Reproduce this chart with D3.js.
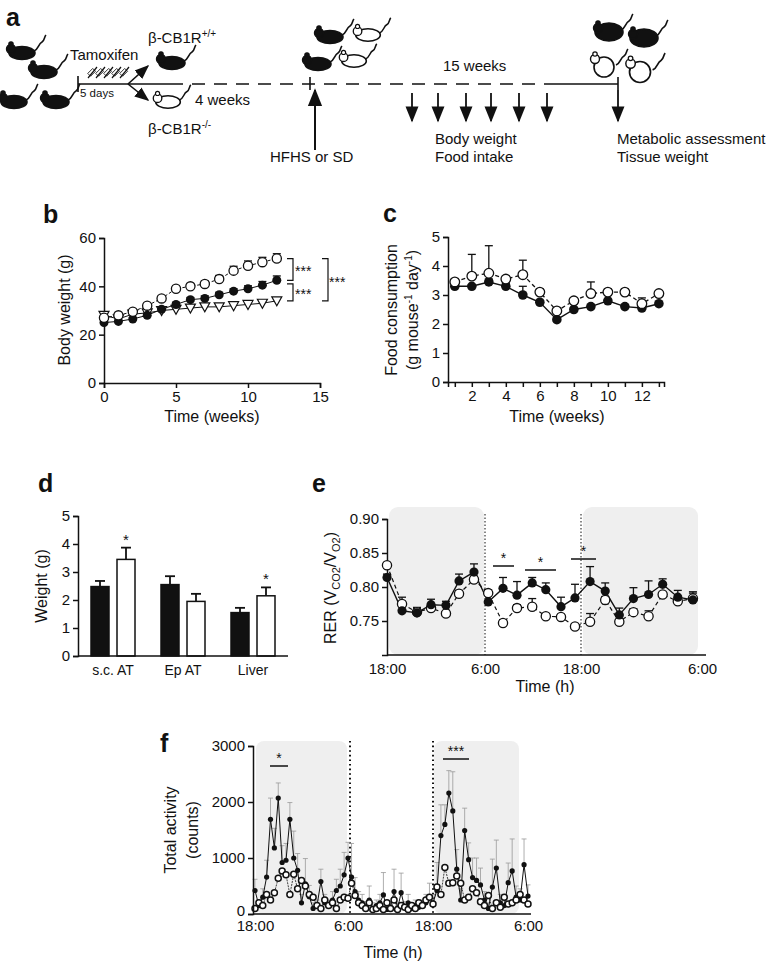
<!DOCTYPE html>
<html><head><meta charset="utf-8">
<script src="https://cdn.jsdelivr.net/npm/d3@7"></script>
<style>body{margin:0;background:#fff}svg{font-family:"Liberation Sans",Arial,sans-serif}</style>
</head><body>
<svg id="c" width="782" height="966"></svg>
<script>
// ---------- DATA ----------
const bWeeks=[0,1,2,3,4,5,6,7,8,9,10,11,12];
const bOpen=[27,28,29.5,32,35,39,40,41,43,46.5,48.5,50,51.5];
const bOpenErr=[0.5,0.5,0.5,0.8,1,1,1,1.2,1.5,1.8,2,2,2];
const bFilled=[25,25.5,26.5,28,30.5,32.5,34.5,35,36.5,38,39,40.5,42.5];
const bFilledErr=[1,0.5,0.5,0.8,0.8,0.8,0.8,1,1,1,1.2,1.5,1.8];
const bTri=[28,26.5,28.5,29,30,30.5,31,31.5,31.5,32,32.5,33,34];
const bTicksX=[0,5,10,15], bTicksY=[0,20,40,60];

const cWeeks=[1,2,3,4,5,6,7,8,9,10,11,12,13];
const cFilled=[3.3,3.3,3.45,3.3,3.0,2.75,2.15,2.5,2.6,2.8,2.6,2.55,2.7];
const cFilledErr=[0.05,0.05,0.1,0.1,0.3,0.05,0.05,0.05,0.05,0.05,0.05,0.1,0.05];
const cOpen=[3.45,3.65,3.75,3.55,3.7,3.1,2.45,2.8,3.05,3.1,3.1,2.7,3.05];
const cOpenErr=[0.1,0.75,0.95,0.1,0.5,0.1,0.1,0.1,0.4,0.1,0.1,0.2,0.1];
const cTicksX=[2,4,6,8,10,12], cTicksY=[0,1,2,3,4,5];

const dCats=["s.c. AT","Ep AT","Liver"];
const dFilled=[2.48,2.55,1.55], dFilledErr=[0.2,0.3,0.17];
const dOpen=[3.45,1.95,2.15], dOpenErr=[0.42,0.27,0.3];
const dSig=["*","","*"];

const eHours=[0,1.84,3.67,5.39,7.22,8.82,10.65,12.4,14.25,16,17.9,19.6,21.5,23.25,24.9,26.4,27.8,29.2,30.7,32.1,33.6,35.1];
const eFilled=[0.814,0.765,0.762,0.774,0.773,0.809,0.822,0.778,0.798,0.788,0.806,0.796,0.771,0.784,0.808,0.794,0.759,0.783,0.789,0.804,0.785,0.781];
const eFilledErr=[0.005,0.01,0.008,0.008,0.006,0.01,0.012,0.012,0.016,0.02,0.008,0.01,0.014,0.02,0.022,0.012,0.01,0.016,0.02,0.008,0.01,0.01];
const eOpen=[0.832,0.775,0.763,0.769,0.761,0.790,0.811,0.791,0.747,0.769,0.771,0.757,0.756,0.742,0.749,0.781,0.749,0.763,0.757,0.789,0.779,0.783];
const eOpenErr=[0.003,0.01,0.005,0.005,0.003,0.005,0.005,0.005,0.005,0.005,0.012,0.003,0.003,0.003,0.012,0.005,0.01,0.005,0.008,0.003,0.003,0.01];
const eTicksY=[0.75,0.80,0.85,0.90];
const timeTickH=[0,12,24,36], timeTickLab=["18:00","6:00","18:00","6:00"];

const fFilled=[420,150,300,660,1690,1180,2070,920,960,1690,1000,780,200,540,310,100,150,580,200,150,250,420,500,700,1000,660,400,250,200,120,250,100,150,200,340,80,120,400,100,380,120,200,100,150,120,150,200,300,200,420,1400,1600,2160,1840,800,250,1490,970,650,600,520,250,100,480,820,200,150,560,770,300,250,880,320];
const fFilledErr=[200,100,150,300,380,350,270,300,300,300,480,300,150,450,200,100,100,220,150,100,150,200,300,400,280,600,250,150,150,100,250,100,100,150,400,80,100,400,100,350,100,150,100,100,100,100,150,250,150,500,550,350,400,700,350,200,400,300,350,400,300,150,100,500,500,150,150,350,570,200,200,460,200];
const fOpen=[100,200,150,350,250,380,640,770,700,350,710,450,600,500,350,300,150,100,250,150,200,100,250,300,280,550,330,200,150,100,200,80,100,150,80,200,100,250,80,150,120,80,150,100,200,150,250,300,180,480,350,830,550,560,680,550,250,300,450,380,220,150,330,100,200,120,300,180,200,250,350,250,180];
const fTicksY=[0,1000,2000,3000];

// ---------- DRAW ----------
const svg=d3.select("#c");
const BLK="#111";
function txt(g,x,y,s,size,opt={}){return g.append("text").attr("x",x).attr("y",y).attr("font-size",size).attr("fill",BLK)
 .attr("text-anchor",opt.anchor||"start").attr("font-weight",opt.bold?"bold":null).text(s);}
function letter(x,y,s){txt(svg,x,y,s,25,{bold:true});}
function errBars(g,xs,ys,es,x,y,w=4,col=BLK,sw=1.3){
  xs.forEach((xv,i)=>{const X=x(xv),Y0=y(ys[i]),Y1=y(ys[i]+es[i]);
    g.append("line").attr("x1",X).attr("x2",X).attr("y1",Y0).attr("y2",Y1).attr("stroke",col).attr("stroke-width",sw);
    g.append("line").attr("x1",X-w).attr("x2",X+w).attr("y1",Y1).attr("y2",Y1).attr("stroke",col).attr("stroke-width",sw);});
}
function styleAxis(a,fs){a.select(".domain").attr("stroke",BLK).attr("stroke-width",1.5);a.selectAll(".tick line").attr("stroke",BLK).attr("stroke-width",1.5);
 a.selectAll("text").attr("font-size",fs).attr("fill",BLK).attr("font-family","Liberation Sans,Arial,sans-serif");}

// ===== panel a =====
letter(6,26,"a");
function mouse(x,y,filled,s=1,fat=false){
  const g=svg.append("g").attr("transform",`translate(${x},${y}) scale(${s})`);
  const fill=filled?BLK:"#fff";
  g.append("path").attr("d","M12,-2 C17,-4 16,-9 20,-11 C23,-13 22,-16 24,-18").attr("fill","none").attr("stroke",BLK).attr("stroke-width",1.6);
  if(fat){g.append("ellipse").attr("rx",filled?14:10).attr("ry",filled?9:10).attr("fill",fill).attr("stroke",BLK).attr("stroke-width",1.6);}
  else g.append("ellipse").attr("rx",13).attr("ry",6.5).attr("fill",fill).attr("stroke",BLK).attr("stroke-width",1.6);
  const hx=fat&&!filled?-9:-11, hy=fat&&!filled?-8:-4;
  g.append("circle").attr("cx",hx).attr("cy",hy).attr("r",4.5).attr("fill",fill).attr("stroke",BLK).attr("stroke-width",1.4);
  g.append("circle").attr("cx",hx).attr("cy",hy-5).attr("r",2.2).attr("fill",fill).attr("stroke",BLK).attr("stroke-width",1.2);
}
[[22,53],[44,72],[14,102],[56,102],[172,63],[318,64],[330,37]].forEach(p=>mouse(p[0],p[1],true));
[[168,102],[354,61],[368,35]].forEach(p=>mouse(p[0],p[1],false,0.95));
mouse(609,32,true,1,true);mouse(644,38,true,1,true);
mouse(604,67,false,1,true);mouse(640,72,false,1.05,true);
svg.append("defs").append("marker").attr("id","ah").attr("viewBox","0 0 10 10").attr("refX",9).attr("refY",5)
 .attr("markerWidth",9).attr("markerHeight",9).attr("orient","auto").append("path").attr("d","M0,1 L10,5 L0,9 Z").attr("fill",BLK);
const L=(x1,y1,x2,y2,o={})=>svg.append("line").attr("x1",x1).attr("y1",y1).attr("x2",x2).attr("y2",y2).attr("stroke",BLK)
 .attr("stroke-width",o.w||1.6).attr("stroke-dasharray",o.dash||null).attr("marker-end",o.arrow?"url(#ah)":null);
L(78,76,78,92);L(78,84,170,84);L(170,84,553,84,{dash:"13,9"});L(553,84,618,84);L(618,77,618,90);L(310,77,310,90);
L(128,84,148,66,{arrow:true});L(128,84,148,100,{arrow:true});
for(let i=0;i<5;i++){const x=88+i*8;L(x,78,x+9,67,{w:1.2});svg.append("rect").attr("x",x+2).attr("y",69).attr("width",4).attr("height",7).attr("fill","none").attr("stroke",BLK).attr("stroke-width",0.8).attr("transform",`rotate(45,${x+4},${72})`);}
txt(svg,70,60,"Tamoxifen",15);txt(svg,80,97,"5 days",11.5);
const t1=txt(svg,148,43,"β-CB1R",15);t1.append("tspan").attr("dy",-6).attr("font-size",10).text("+/+");
const t2=txt(svg,148,134,"β-CB1R",15);t2.append("tspan").attr("dy",-6).attr("font-size",10).text("-/-");
txt(svg,195,105,"4 weeks",15);txt(svg,270,162,"HFHS or SD",15);
L(315,150,315,90,{arrow:true,w:2});
txt(svg,443,71,"15 weeks",15);
[412,438,466,491,519,547].forEach(x=>L(x,93,x,121,{arrow:true,w:1.8}));
L(618,90,618,121,{arrow:true,w:1.8});
txt(svg,435,144,"Body weight",15);txt(svg,435,162,"Food intake",15);
txt(svg,617,144,"Metabolic assessment",15);txt(svg,617,162,"Tissue weight",15);

// ===== panel b =====
letter(43,223,"b");
{const x=d3.scaleLinear().domain([0,15]).range([104,320]),y=d3.scaleLinear().domain([0,60]).range([383,238]);
 const g=svg.append("g");
 styleAxis(g.append("g").attr("transform","translate(0,383)").call(d3.axisBottom(x).tickValues(bTicksX).tickSize(5)),15);
 styleAxis(g.append("g").attr("transform","translate(104,0)").call(d3.axisLeft(y).tickValues(bTicksY).tickSize(5)),15);
 const line=(arr,dash)=>g.append("path").datum(arr).attr("fill","none").attr("stroke",BLK).attr("stroke-width",1).attr("stroke-dasharray",dash)
   .attr("d",d3.line().x((d,i)=>x(bWeeks[i])).y(d=>y(d)));
 line(bTri,null);line(bFilled,null);line(bOpen,"3,2");
 errBars(g,bWeeks,bOpen,bOpenErr,x,y);errBars(g,bWeeks,bFilled,bFilledErr,x,y);
 g.selectAll(".tri").data(bTri).join("path").attr("transform",(d,i)=>`translate(${x(bWeeks[i])},${y(d)})`)
   .attr("d","M-5,-4 L5,-4 L0,5 Z").attr("fill","#fff").attr("stroke",BLK).attr("stroke-width",1.2);
 g.selectAll(".fb").data(bFilled).join("circle").attr("cx",(d,i)=>x(bWeeks[i])).attr("cy",d=>y(d)).attr("r",4.5).attr("fill",BLK);
 g.selectAll(".ob").data(bOpen).join("circle").attr("cx",(d,i)=>x(bWeeks[i])).attr("cy",d=>y(d)).attr("r",4.6).attr("fill","#fff").attr("stroke",BLK).attr("stroke-width",1.3);
 const br=(xx,a,b,lab,tx)=>{g.append("path").attr("d",`M${xx},${y(a)} H${xx+6} V${y(b)} H${xx}`).attr("fill","none").attr("stroke",BLK).attr("stroke-width",1.2);
   txt(g,tx,(y(a)+y(b))/2+7,lab,14);};
 br(287,51.5,42.5,"***",295);br(287,41,34,"***",295);br(322,51.5,34,"***",329);
 txt(g,212,422,"Time (weeks)",16,{anchor:"middle"});
 g.append("text").attr("transform","translate(70,310) rotate(-90)").attr("text-anchor","middle").attr("font-size",16).attr("fill",BLK).text("Body weight (g)");
}

// ===== panel c =====
letter(383,222,"c");
{const x=d3.scaleLinear().domain([0.6,13.3]).range([448,664]),y=d3.scaleLinear().domain([0,5]).range([382,237]);
 const g=svg.append("g");
 styleAxis(g.append("g").attr("transform","translate(0,382)").call(d3.axisBottom(x).tickValues(cWeeks).tickFormat(d=>cTicksX.includes(d)?d:"").tickSize(5)),15);
 styleAxis(g.append("g").attr("transform","translate(448,0)").call(d3.axisLeft(y).tickValues(cTicksY).tickFormat(d3.format("d")).tickSize(5)),15);
 g.append("path").datum(cFilled).attr("fill","none").attr("stroke",BLK).attr("stroke-width",1.4).attr("d",d3.line().x((d,i)=>x(cWeeks[i])).y(d=>y(d)));
 g.append("path").datum(cOpen).attr("fill","none").attr("stroke",BLK).attr("stroke-width",1.3).attr("stroke-dasharray","4,3").attr("d",d3.line().x((d,i)=>x(cWeeks[i])).y(d=>y(d)));
 errBars(g,cWeeks,cOpen,cOpenErr,x,y);errBars(g,cWeeks,cFilled,cFilledErr,x,y);
 g.selectAll(".fc").data(cFilled).join("circle").attr("cx",(d,i)=>x(cWeeks[i])).attr("cy",d=>y(d)).attr("r",4.8).attr("fill",BLK);
 g.selectAll(".oc").data(cOpen).join("circle").attr("cx",(d,i)=>x(cWeeks[i])).attr("cy",d=>y(d)).attr("r",4.8).attr("fill","#fff").attr("stroke",BLK).attr("stroke-width",1.3);
 txt(g,557,422,"Time (weeks)",16,{anchor:"middle"});
 g.append("text").attr("transform","translate(397,310) rotate(-90)").attr("text-anchor","middle").attr("font-size",16).attr("fill",BLK).text("Food consumption");
 const yl=g.append("text").attr("transform","translate(418,310) rotate(-90)").attr("text-anchor","middle").attr("font-size",16).attr("fill",BLK).text("(g mouse");
 yl.append("tspan").attr("dy",-6).attr("font-size",10).text("-1");yl.append("tspan").attr("dy",6).text(" day");
 yl.append("tspan").attr("dy",-6).attr("font-size",10).text("-1");yl.append("tspan").attr("dy",6).text(")");
}

// ===== panel d =====
letter(38,492,"d");
{const xb=d3.scaleBand().domain(dCats).range([78,288]),y=d3.scaleLinear().domain([0,5]).range([656,516]);
 const g=svg.append("g");
 dCats.forEach((c,i)=>{const cx=xb(c)+xb.bandwidth()/2;
   [[dFilled[i],dFilledErr[i],cx-22,BLK],[dOpen[i],dOpenErr[i],cx+4,"#fff"]].forEach(([v,e,x0,f])=>{
     g.append("line").attr("x1",x0+9).attr("x2",x0+9).attr("y1",y(v)).attr("y2",y(v+e)).attr("stroke",BLK).attr("stroke-width",1.8);
     g.append("line").attr("x1",x0+4).attr("x2",x0+14).attr("y1",y(v+e)).attr("y2",y(v+e)).attr("stroke",BLK).attr("stroke-width",1.8);
     g.append("rect").attr("x",x0).attr("y",y(v)).attr("width",18).attr("height",656-y(v)).attr("fill",f).attr("stroke",BLK).attr("stroke-width",1.5);});
   if(dSig[i])txt(g,cx+13,y(dOpen[i]+dOpenErr[i])-3,dSig[i],15,{anchor:"middle"});
   txt(g,cx,675,c,14,{anchor:"middle"});
 });
 g.append("line").attr("x1",78).attr("x2",288).attr("y1",656).attr("y2",656).attr("stroke",BLK).attr("stroke-width",1.5);
 styleAxis(g.append("g").attr("transform","translate(78,0)").call(d3.axisLeft(y).ticks(5).tickSize(5)),15);
 g.append("text").attr("transform","translate(47,586) rotate(-90)").attr("text-anchor","middle").attr("font-size",16).attr("fill",BLK).text("Weight (g)");
}

// ===== panel e =====
letter(312,492,"e");
{const x=d3.scaleLinear().domain([0,12,24,36]).range([387,485,581,702]),y=d3.scaleLinear().domain([0.70,0.90]).range([655,519]);
 const g=svg.append("g");
 g.append("rect").attr("x",x(0)+2).attr("y",507).attr("width",x(12)-x(0)-3).attr("height",148).attr("rx",9).attr("fill","#efefef");
 g.append("rect").attr("x",x(24)+2).attr("y",507).attr("width",698-x(24)-2).attr("height",148).attr("rx",9).attr("fill","#efefef");
 [12,24].forEach(h=>g.append("line").attr("x1",x(h)).attr("x2",x(h)).attr("y1",514).attr("y2",655).attr("stroke",BLK).attr("stroke-width",1).attr("stroke-dasharray","1.5,2"));
 styleAxis(g.append("g").attr("transform","translate(0,655)").call(d3.axisBottom(x).tickValues(timeTickH).tickFormat((d,i)=>timeTickLab[i]).tickSize(0).tickPadding(8)),15);
 g.select(".domain").remove();
 g.append("line").attr("x1",387).attr("x2",706).attr("y1",655).attr("y2",655).attr("stroke",BLK).attr("stroke-width",1.5);
 styleAxis(g.append("g").attr("transform","translate(387,0)").call(d3.axisLeft(y).tickValues(eTicksY).tickFormat(d3.format(".2f")).tickSize(5)),15);
 g.append("path").datum(eFilled).attr("fill","none").attr("stroke",BLK).attr("stroke-width",1.4).attr("d",d3.line().x((d,i)=>x(eHours[i])).y(d=>y(d)));
 g.append("path").datum(eOpen).attr("fill","none").attr("stroke",BLK).attr("stroke-width",1.2).attr("stroke-dasharray","4,3").attr("d",d3.line().x((d,i)=>x(eHours[i])).y(d=>y(d)));
 errBars(g,eHours,eFilled,eFilledErr,x,y);errBars(g,eHours,eOpen,eOpenErr,x,y);
 g.selectAll(".oe").data(eOpen).join("circle").attr("cx",(d,i)=>x(eHours[i])).attr("cy",d=>y(d)).attr("r",4.6).attr("fill","#fff").attr("stroke",BLK).attr("stroke-width",1.3);
 g.selectAll(".fe").data(eFilled).join("circle").attr("cx",(d,i)=>x(eHours[i])).attr("cy",d=>y(d)).attr("r",4.6).attr("fill",BLK);
 [[493,514,566],[525,556,570],[571,596,559]].forEach(([a,b,yy])=>{g.append("line").attr("x1",a).attr("x2",b).attr("y1",yy).attr("y2",yy).attr("stroke",BLK).attr("stroke-width",1.5);
   txt(g,(a+b)/2,yy-3,"*",14,{anchor:"middle"});});
 txt(g,545,692,"Time (h)",16,{anchor:"middle"});
 const yl=g.append("text").attr("transform","translate(336,588) rotate(-90)").attr("text-anchor","middle").attr("font-size",16).attr("fill",BLK).text("RER (V");
 yl.append("tspan").attr("dy",4).attr("font-size",11).text("CO2");yl.append("tspan").attr("dy",-4).text("/V");
 yl.append("tspan").attr("dy",4).attr("font-size",11).text("O2");yl.append("tspan").attr("dy",-4).text(")");
}

// ===== panel f =====
letter(160,752,"f");
{const x=d3.scaleLinear().domain([0,12,24,36]).range([255,348,433,528]),y=d3.scaleLinear().domain([0,3000]).range([914,746]);
 const g=svg.append("g"); const hrs=fFilled.map((d,i)=>i*0.5);
 g.append("rect").attr("x",256).attr("y",741).attr("width",91).attr("height",173).attr("rx",8).attr("fill","#efefef");
 g.append("rect").attr("x",434).attr("y",741).attr("width",85).attr("height",173).attr("rx",8).attr("fill","#efefef");
 [350,433].forEach(xx=>g.append("line").attr("x1",xx).attr("x2",xx).attr("y1",741).attr("y2",914).attr("stroke",BLK).attr("stroke-width",2).attr("stroke-dasharray","1.6,3"));
 errBars(g,hrs,fFilled,fFilledErr,x,y,2.5,"#999",0.8);
 g.append("path").datum(fOpen).attr("fill","none").attr("stroke",BLK).attr("stroke-width",0.8).attr("stroke-dasharray","2,1").attr("d",d3.line().x((d,i)=>x(hrs[i])).y(d=>y(d)));
 g.append("path").datum(fFilled).attr("fill","none").attr("stroke",BLK).attr("stroke-width",1).attr("d",d3.line().x((d,i)=>x(hrs[i])).y(d=>y(d)));
 g.selectAll(".ff").data(fFilled).join("circle").attr("cx",(d,i)=>x(hrs[i])).attr("cy",d=>y(d)).attr("r",2.6).attr("fill",BLK);
 g.selectAll(".of").data(fOpen).join("circle").attr("cx",(d,i)=>x(hrs[i])).attr("cy",d=>y(d)).attr("r",3).attr("fill","#fff").attr("stroke",BLK).attr("stroke-width",1.5);
 styleAxis(g.append("g").attr("transform","translate(0,914)").call(d3.axisBottom(x).tickValues(timeTickH).tickFormat((d,i)=>timeTickLab[i]).tickSize(0).tickPadding(6)),15);
 g.selectAll(".domain").remove();
 g.append("line").attr("x1",253).attr("x2",531).attr("y1",914).attr("y2",914).attr("stroke",BLK).attr("stroke-width",1.5);
 const ya=g.append("g").attr("transform","translate(253,0)").call(d3.axisLeft(y).tickValues(fTicksY).tickFormat(d3.format("d")).tickSize(5));
 styleAxis(ya,15); ya.selectAll(".tick text").filter(d=>d===0).attr("dy","0.1em");
 [[270,288,766,"*"],[443,469,759,"***"]].forEach(([a,b,yy,s])=>{g.append("line").attr("x1",a).attr("x2",b).attr("y1",yy).attr("y2",yy).attr("stroke",BLK).attr("stroke-width",1.5);
   txt(g,(a+b)/2,yy-3,s,14,{anchor:"middle"});});
 txt(g,393,958,"Time (h)",16,{anchor:"middle"});
 g.append("text").attr("transform","translate(176,830) rotate(-90)").attr("text-anchor","middle").attr("font-size",16).attr("fill",BLK).text("Total activity");
 g.append("text").attr("transform","translate(198,830) rotate(-90)").attr("text-anchor","middle").attr("font-size",16).attr("fill",BLK).text("(counts)");
}
</script></body></html>
